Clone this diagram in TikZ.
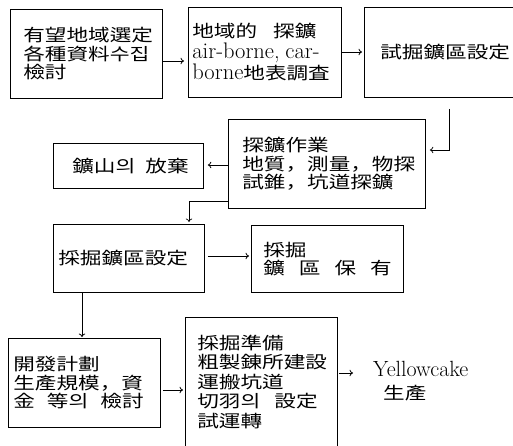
\documentclass[tikz,border=0pt]{standalone}
\usepackage{fontspec}
\newfontfamily\cjk[FakeStretch=1.27]{Noto Sans CJK KR}
\usetikzlibrary{arrows.meta}
\newcommand\cjkfont{\cjk\fontsize{17}{18.5}\selectfont\lineskiplimit=-50pt}
\newcommand\lat[2][23]{\mbox{\rmfamily\fontsize{#1}{18}\selectfont #2}}
\tikzset{
  box/.style={draw, line width=0.8pt, rectangle, anchor=north west, inner ysep=0pt, align=left, font=\cjkfont},
  arr/.style={-{To[length=3.5pt,width=6.5pt]}, line width=0.8pt},
  link/.style={line width=0.7pt},
}
\begin{document}
\begin{tikzpicture}[x=1pt,y=-1pt]
\useasboundingbox (0,0) rectangle (513,445);
% boxes
\node[box, minimum width=152pt, minimum height=89pt, inner xsep=13pt, text width=126pt] (b1) at (10,9)
  {有望地域選定\\各種資料수집\\檢討};
\node[box, minimum width=153pt, minimum height=90pt, inner xsep=4pt, text width=145pt,
      font={\cjk\fontsize{17}{21}\selectfont\lineskiplimit=-50pt}] (b2) at (188,7)
  {\mbox{地域的\hspace{16pt}探鑛}\\\lat[22.5]{air-borne,~car-}\\\mbox{\lat[22.5]{borne}地表調査}};
\node[box, minimum width=152pt, minimum height=90pt, inner xsep=16pt, text width=120pt] (b3) at (364,7)
  {試掘鑛區設定};
\node[box, minimum width=197pt, minimum height=89pt, inner xsep=14pt, text width=169pt] (b4) at (228,119)
  {探鑛作業\\地質，測量，物探\\試錐，坑道探鑛};
\node[box, minimum width=150pt, minimum height=45pt, inner xsep=19pt, text width=112pt] (ab) at (53,143)
  {\mbox{鑛山의\hspace{10pt}放棄}};
\node[box, minimum width=151pt, minimum height=68pt, inner xsep=5pt, text width=141pt] (b5) at (53,224)
  {採掘鑛區設定};
\node[box, minimum width=152pt, minimum height=67pt, inner xsep=12pt, text width=128pt] (b6) at (251,225)
  {採掘\\\mbox{鑛\hspace{14pt}區\hspace{14pt}保\hspace{14pt}有}};
\node[box, minimum width=152pt, minimum height=89pt, inner xsep=5pt, text width=142pt] (b7) at (8,338)
  {開發計劃\\生產規模，資\\\mbox{金\hspace{12pt}等의\hspace{12pt}檢討}};
\node[box, minimum width=152pt, minimum height=129pt, inner xsep=12pt, text width=128pt,
      font={\cjk\fontsize{17}{19.5}\selectfont\lineskiplimit=-50pt}] (b8) at (185,317)
  {採掘準備\\粗製錬所建設\\運搬坑道\\\mbox{切羽의\hspace{14pt}設定}\\試運轉};
\node[anchor=west, inner sep=0pt, align=left, font={\cjk\fontsize{17}{23}\selectfont\lineskiplimit=-50pt}] (yc) at (373,381)
  {\lat[22]{Yellowcake}\\\hspace{10pt}生產};
% connectors
\draw[arr, shorten >=4pt] (b1.east |- 0,61) -- (b2.west |- 0,61);
\draw[arr, shorten >=2pt] (b2.east |- 0,52) -- (b3.west |- 0,52);
\draw[arr, link, shorten <=11pt, shorten >=4pt] (b3.south -| 449,0) |- (b4.east |- 0,150);
\draw[arr, shorten >=4pt] (b4.west |- 0,165) -- (ab.east |- 0,165);
\draw[arr, link, shorten >=2pt] (b4.west |- 0,201) -| (b5.north -| 189,0);
\draw[arr, shorten <=3pt, shorten >=2pt] (b5.east |- 0,256) -- (b6.west |- 0,256);
\draw[arr, shorten >=1pt] (b5.south -| 82,0) -- (b7.north -| 82,0);
\draw[arr, shorten <=2pt, shorten >=2pt] (b7.east |- 0,390) -- (b8.west |- 0,390);
\draw[arr, shorten <=1pt, shorten >=20pt] (b8.east |- 0,373) -- (yc.west |- 0,373);
\end{tikzpicture}
\end{document}
